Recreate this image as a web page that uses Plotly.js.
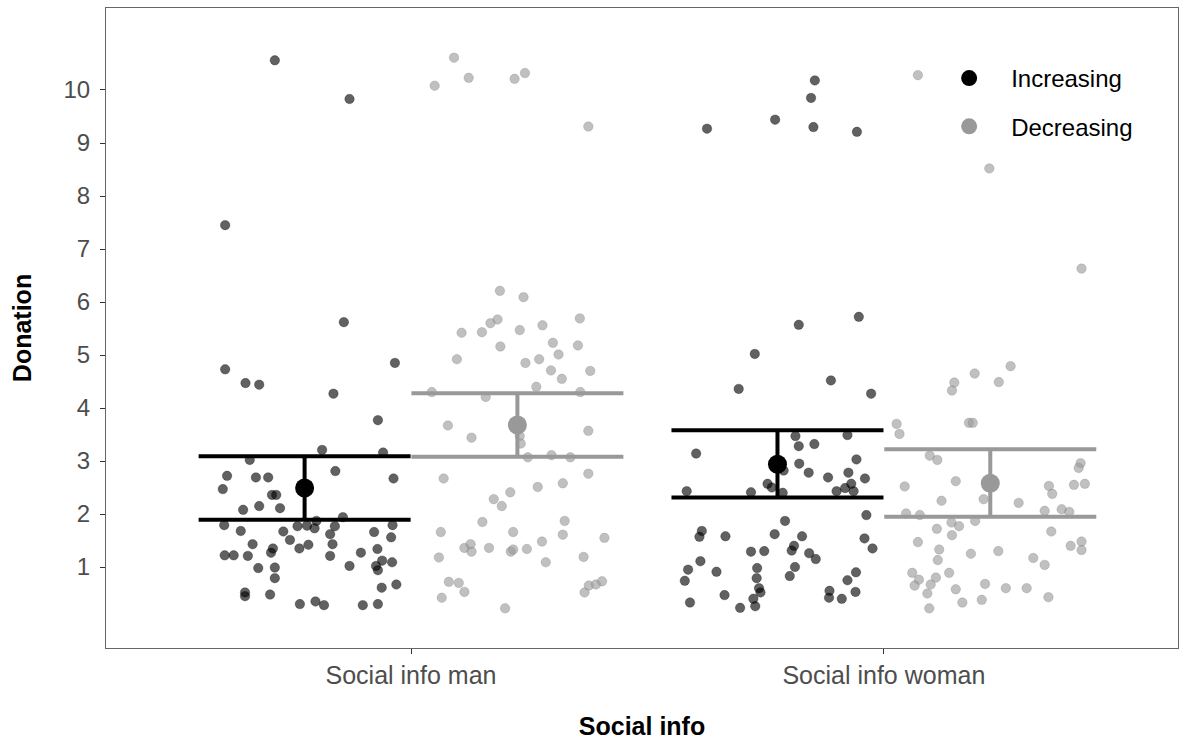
<!DOCTYPE html>
<html>
<head>
<meta charset="utf-8">
<script src="https://cdn.plot.ly/plotly-3.0.1.min.js"></script>
<style>html,body{margin:0;padding:0;background:#fff;}#chart{width:1190px;height:740px;}</style>
</head>
<body>
<div id="chart"></div>
<script>
// ---- data ----
const categories = ["Social info man", "Social info woman"];
const seriesNames = ["Increasing", "Decreasing"];
const yTicks = [1, 2, 3, 4, 5, 6, 7, 8, 9, 10];

// summary: mean and interval (lower, upper) per category
const incMean = [2.49, 2.94];
const incLower = [1.89, 2.31];
const incUpper = [3.09, 3.58];
const decMean = [3.68, 2.58];
const decLower = [3.08, 1.95];
const decUpper = [4.28, 3.22];

// raw jittered observations: offset from category centre, value
const manIncX = [-0.288,-0.130,-0.393,-0.142,-0.393,-0.350,-0.321,-0.164,-0.034,
 -0.070,-0.188,-0.059,-0.341,-0.160,-0.389,-0.328,-0.302,-0.037,-0.398,-0.294,-0.285,
 -0.321,-0.355,-0.277,-0.144,-0.200,-0.395,-0.240,-0.220,-0.204,-0.161,-0.039,-0.360,
 -0.270,-0.171,-0.078,-0.256,-0.042,-0.335,-0.166,-0.292,-0.236,-0.217,-0.071,-0.296,
 -0.394,-0.375,-0.345,-0.171,-0.106,-0.061,-0.040,-0.074,-0.070,-0.130,-0.323,-0.288,
 -0.288,-0.031,-0.062,-0.351,-0.351,-0.298,-0.235,-0.202,-0.184,-0.102,-0.070];
const manIncY = [10.56,9.83,7.45,5.62,4.73,4.47,4.44,4.27,4.85,
 3.77,3.21,3.16,3.02,2.81,2.72,2.69,2.69,2.67,2.47,2.36,2.36,
 2.15,2.08,2.11,1.94,1.87,1.79,1.77,1.78,1.73,1.77,1.79,1.68,
 1.67,1.62,1.66,1.51,1.56,1.43,1.43,1.35,1.35,1.42,1.34,1.27,
 1.22,1.22,1.21,1.21,1.27,1.12,1.09,1.02,0.94,1.02,0.98,0.99,
 0.79,0.67,0.61,0.52,0.45,0.48,0.30,0.35,0.28,0.28,0.30];

const manDecX = [0.091,0.050,0.122,0.219,0.241,0.375,
 0.188,0.238,0.183,0.168,0.357,0.107,0.150,0.230,0.278,0.189,0.300,0.353,0.097,0.242,
 0.271,0.312,0.296,0.379,0.319,0.265,0.044,0.158,0.358,
 0.078,0.128,0.375,0.230,0.232,0.247,0.297,0.337,0.069,0.375,0.321,0.268,0.210,0.175,
 0.192,0.151,0.325,0.063,0.216,0.321,0.409,0.277,0.113,0.126,0.128,0.165,0.211,0.216,
 0.245,0.059,0.285,0.365,0.080,0.101,0.113,0.065,0.199,0.367,0.376,0.391,0.404];
const manDecY = [10.61,10.08,10.23,10.21,10.32,9.31,
 6.21,6.09,5.67,5.60,5.69,5.42,5.43,5.47,5.56,5.16,5.23,5.18,4.92,4.85,
 4.92,5.01,4.71,4.70,4.55,4.40,4.30,4.21,4.30,
 3.67,3.44,3.57,3.47,3.33,3.07,3.11,3.07,2.67,2.76,2.58,2.51,2.41,2.28,
 2.15,1.85,1.87,1.66,1.66,1.61,1.55,1.48,1.36,1.43,1.29,1.36,1.29,1.33,
 1.34,1.18,1.09,1.19,0.72,0.70,0.53,0.42,0.22,0.52,0.65,0.67,0.73];

const womIncX = [-0.374,-0.230,-0.146,-0.154,-0.149,-0.057,
 -0.053,-0.180,-0.273,-0.307,-0.112,-0.027,
 -0.187,-0.077,-0.180,-0.147,-0.397,-0.058,-0.179,-0.212,-0.159,-0.118,-0.075,-0.040,
 -0.246,-0.237,-0.069,-0.082,-0.100,-0.064,-0.417,-0.281,-0.214,-0.037,-0.209,-0.385,
 -0.390,-0.335,-0.231,-0.173,-0.041,-0.024,-0.281,-0.253,-0.190,-0.195,-0.158,-0.144,
 -0.388,-0.414,-0.421,-0.354,-0.268,-0.269,-0.264,-0.261,-0.276,-0.272,-0.304,-0.337,
 -0.410,-0.199,-0.188,-0.115,-0.116,-0.089,-0.077,-0.059,-0.060];
const womIncY = [9.27,9.44,10.18,9.85,9.30,9.21,
 5.72,5.57,5.02,4.36,4.52,4.27,
 3.47,3.49,3.28,3.32,3.14,3.03,2.95,2.82,2.78,2.69,2.78,2.67,
 2.57,2.50,2.57,2.49,2.43,2.43,2.43,2.41,2.40,1.98,1.87,1.68,
 1.57,1.58,1.62,1.58,1.54,1.35,1.29,1.30,1.40,1.31,1.26,1.15,
 1.11,0.95,0.74,0.91,0.98,0.79,0.60,0.52,0.40,0.26,0.23,0.47,
 0.33,0.83,1.00,0.55,0.42,0.40,0.75,0.90,0.53];

const womDecX = [0.072,0.223,
 0.418,0.268,0.192,0.149,0.144,0.243,
 0.027,0.033,0.180,0.188,0.097,0.113,0.416,0.412,0.152,0.044,0.349,0.356,0.402,0.425,
 0.122,0.211,0.285,0.340,0.376,0.392,0.047,0.076,0.143,0.159,0.193,0.112,0.144,0.354,
 0.072,0.117,0.114,0.184,0.242,0.395,0.418,0.418,0.316,0.340,0.060,0.074,0.065,0.099,
 0.110,0.138,0.092,0.152,0.214,0.258,0.302,0.096,0.166,0.207,0.348];
const womDecY = [10.28,8.52,
 6.63,4.79,4.65,4.48,4.33,4.49,
 3.70,3.51,3.72,3.72,3.10,3.02,2.96,2.87,2.62,2.52,2.53,2.38,2.55,2.57,
 2.25,2.28,2.21,2.06,2.09,2.04,2.01,1.98,1.84,1.77,1.87,1.72,1.60,1.67,
 1.47,1.33,1.13,1.25,1.30,1.40,1.48,1.32,1.17,1.04,0.89,0.76,0.65,0.67,
 0.80,0.89,0.50,0.58,0.68,0.60,0.60,0.22,0.33,0.38,0.43];

// ---- styling ----
const FONT = "Liberation Sans, Arial, Helvetica, sans-serif";
const incColor = "#000000";
const decColor = "#999999";
const catPos = categories.map((c, i) => i + 1);
const dodge = 0.225;

function pts(offsets, values, ci, fill, edge, name) {
  return {
    type: "scatter", mode: "markers", name: name, showlegend: false, hoverinfo: "skip",
    x: offsets.map(o => catPos[ci] + o), y: values,
    marker: { size: 9.5, color: fill, line: { color: edge, width: 0.8 } }
  };
}

function summary(mean, lo, hi, offset, color, name, first) {
  return {
    type: "scatter", mode: "markers", name: name, legendgroup: name, showlegend: first,
    x: catPos.map(p => p + offset).slice(0, mean.length),
    y: mean,
    marker: { size: 19, color: color },
    error_y: {
      type: "data", symmetric: false,
      array: mean.map((m, i) => hi[i] - m),
      arrayminus: mean.map((m, i) => m - lo[i]),
      color: color, thickness: 4, width: 106
    }
  };
}

const traces = [
  pts(manIncX, manIncY, 0, "rgba(0,0,0,0.62)", "rgba(0,0,0,0.35)", seriesNames[0]),
  pts(womIncX, womIncY, 1, "rgba(0,0,0,0.62)", "rgba(0,0,0,0.35)", seriesNames[0]),
  pts(manDecX, manDecY, 0, "rgba(153,153,153,0.62)", "rgba(110,110,110,0.3)", seriesNames[1]),
  pts(womDecX, womDecY, 1, "rgba(153,153,153,0.62)", "rgba(110,110,110,0.3)", seriesNames[1]),
  summary(incMean, incLower, incUpper, -dodge, incColor, seriesNames[0], true),
  summary(decMean, decLower, decUpper, dodge, decColor, seriesNames[1], true)
];

const axisCommon = {
  showgrid: false, zeroline: false, showline: true, mirror: true,
  linecolor: "#666666", linewidth: 1,
  ticks: "outside", ticklen: 5, tickwidth: 1, tickcolor: "#333333",
  tickfont: { family: FONT, size: 25, color: "#4d4d4d" }
};

const layout = {
  width: 1190, height: 740,
  margin: { l: 106, r: 12, t: 8, b: 92 },
  paper_bgcolor: "#ffffff", plot_bgcolor: "#ffffff",
  font: { family: FONT },
  xaxis: Object.assign({}, axisCommon, {
    range: [0.355, 2.622], tickvals: catPos, ticktext: categories,
    title: { text: "Social info", font: { family: FONT, size: 25, color: "#000", weight: 700 }, standoff: 30 }
  }),
  yaxis: Object.assign({}, axisCommon, {
    range: [-0.528, 11.547], tickvals: yTicks, ticktext: yTicks.map(String),
    tickfont: { family: FONT, size: 24, color: "#4d4d4d" },
    ticklabelstandoff: 5,
    title: { text: "Donation", font: { family: FONT, size: 25, color: "#000", weight: 700 }, standoff: 24 }
  }),
  showlegend: true,
  legend: {
    x: 0.766, y: 0.925, xanchor: "left", yanchor: "top",
    font: { family: FONT, size: 24, color: "#000" },
    bgcolor: "rgba(0,0,0,0)", traceorder: "grouped", tracegroupgap: 14,
    itemsizing: "trace", itemwidth: 74
  }
};

Plotly.newPlot("chart", traces, layout, { displayModeBar: false, staticPlot: true });
</script>
</body>
</html>
